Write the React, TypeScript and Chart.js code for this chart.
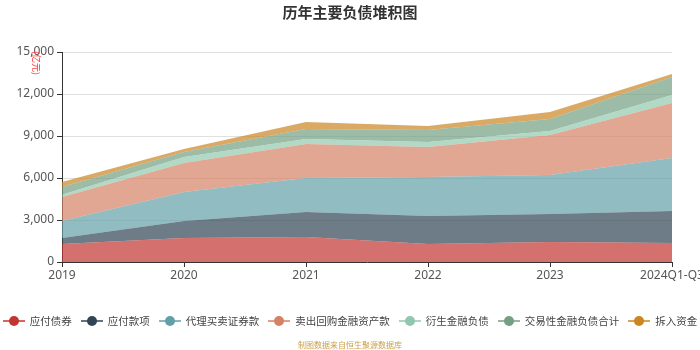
import React, { useEffect, useRef } from "react";
import { Chart, registerables } from "chart.js";

Chart.register(...registerables);

const categories = ["2019", "2020", "2021", "2022", "2023", "2024Q1-Q3"];
const seriesNames = ["应付债券", "应付款项", "代理买卖证券款", "卖出回购金融资产款", "衍生金融负债", "交易性金融负债合计", "拆入资金"];
const bonds = [1290, 1710, 1790, 1290, 1430, 1360];
const payables = [420, 1220, 1780, 2000, 2000, 2280];
const agencyTrading = [1220, 2070, 2430, 2780, 2780, 3790];
const repos = [1710, 2070, 2430, 2140, 2860, 3930];
const derivatives = [160, 430, 360, 360, 290, 570];
const tradingLiab = [560, 360, 710, 860, 850, 1280];
const borrowings = [350, 210, 500, 280, 500, 220];
const seriesValues = [bonds, payables, agencyTrading, repos, derivatives, tradingLiab, borrowings];
const colors = ["#c23531", "#2f4554", "#61a0a8", "#d48265", "#91c7ae", "#749f83", "#ca8622"];
const yTicks = [0, 3000, 6000, 9000, 12000, 15000];

function hexA(hex: string, a: number) {
  const r = parseInt(hex.slice(1, 3), 16);
  const g = parseInt(hex.slice(3, 5), 16);
  const b = parseInt(hex.slice(5, 7), 16);
  return `rgba(${r},${g},${b},${a})`;
}

export default function App() {
  const ref = useRef<HTMLCanvasElement | null>(null);
  useEffect(() => {
    document.body.style.margin = "0";
    const ctx = ref.current!;
    const chart = new Chart(ctx, {
      type: "line",
      data: {
        labels: categories,
        datasets: seriesValues.map((vals, i) => ({
          label: seriesNames[i],
          data: vals,
          backgroundColor: hexA(colors[i], 0.7),
          borderColor: hexA(colors[i], 0.7),
          borderWidth: 0,
          pointRadius: 0,
          fill: i === 0 ? "origin" : "-1",
          tension: 0,
        })),
      },
      options: {
        animation: false,
        responsive: false,
        maintainAspectRatio: false,
        layout: { padding: { left: 0, right: 28, top: 52, bottom: 68 } },
        plugins: { legend: { display: false }, title: { display: false }, tooltip: { enabled: false } },
        scales: {
          x: {
            offset: false,
            grid: { drawOnChartArea: false, tickLength: 5, tickColor: "#333", color: "#333" },
            border: { color: "#333", width: 1 },
            ticks: { color: "#555", font: { size: 12, family: "'Noto Sans', 'DejaVu Sans', sans-serif" }, padding: 1, maxRotation: 0, autoSkip: false },
            afterFit: (s: any) => { s.height = 20; s.paddingLeft = 0; s.paddingRight = 0; },
          },
          y: {
            stacked: true,
            min: 0,
            max: 15000,
            afterBuildTicks: (s: any) => { s.ticks = yTicks.map((v) => ({ value: v })); },
            grid: { color: "#e0e0e0", tickLength: 5, tickColor: "#333" },
            border: { color: "#333", width: 1 },
            ticks: {
              color: "#555",
              font: { size: 12, family: "'Noto Sans', 'DejaVu Sans', sans-serif" },
              padding: 3,
              callback: (v: any) => Number(v).toLocaleString("en-US"),
            },
            afterFit: (s: any) => { s.width = 62; s.paddingTop = 0; s.paddingBottom = 0; },
          },
        },
      },
    });
    return () => chart.destroy();
  }, []);

  const cjk = "'Noto Sans CJK SC', 'Noto Sans', sans-serif";
  return (
    <div style={{ position: "fixed", left: 0, top: 0, width: 700, height: 350, background: "#fff", fontFamily: cjk }}>
      <canvas ref={ref} width={700} height={350} style={{ position: "absolute", left: 0, top: 0, width: 700, height: 350 }} />
      <div style={{ position: "absolute", left: 0, top: 1, width: 700, textAlign: "center", fontSize: 15, fontWeight: "bold", color: "#333" }}>
        历年主要负债堆积图
      </div>
      <div style={{ position: "absolute", left: 36, top: 63, width: 0, height: 0 }}>
        <div style={{ position: "absolute", left: 0, top: 0, transform: "translate(-50%, -50%) rotate(90deg)", fontSize: 9, color: "#ff2a2a", whiteSpace: "nowrap", lineHeight: "10px" }}>
          (亿元)
        </div>
      </div>
      <div style={{ position: "absolute", left: 0, top: 313, width: 700, display: "flex", justifyContent: "center", gap: 9, fontSize: 10.5, color: "#444", whiteSpace: "nowrap" }}>
        {seriesNames.map((n, i) => (
          <div key={n} style={{ display: "flex", alignItems: "center", flexShrink: 0 }}>
            <svg width={22} height={14} style={{ marginRight: 5 }}>
              <line x1={0} y1={7} x2={22} y2={7} stroke={colors[i]} strokeWidth={1.5} />
              <circle cx={11} cy={7} r={5} fill={colors[i]} />
            </svg>
            <span>{n}</span>
          </div>
        ))}
      </div>
      <div style={{ position: "absolute", left: 0, top: 339, width: 700, textAlign: "center", fontSize: 8, color: "#c9a14a" }}>
        制图数据来自恒生聚源数据库
      </div>
    </div>
  );
}
